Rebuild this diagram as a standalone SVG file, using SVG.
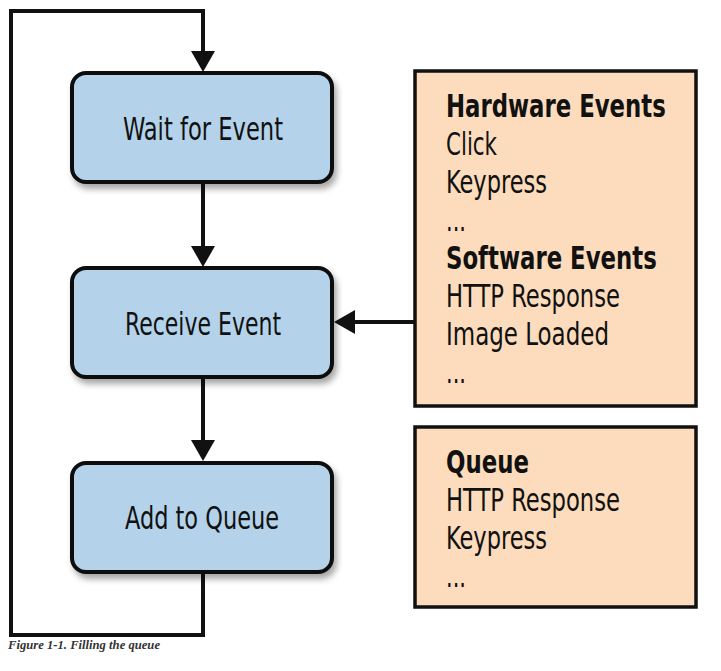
<svg xmlns="http://www.w3.org/2000/svg" width="721" height="671" viewBox="0 0 721 671">
<style>
  .blue { fill: #b4d3ea; stroke: #111; stroke-width: 4; }
  .peach { fill: #fcdcbc; stroke: #111; stroke-width: 3.5; }
  .t { font-family: "Liberation Sans Narrow", "DejaVu Sans Condensed", "Liberation Sans", sans-serif; font-size: 32px; fill: #111; }
  .b { font-weight: bold; }
  .conn { fill: none; stroke: #111; stroke-width: 4; }
  .cap { font-family: "Liberation Serif", serif; font-style: italic; font-weight: bold; font-size: 11.5px; fill: #333; }
</style>
<defs>
  <marker id="ah" markerUnits="userSpaceOnUse" markerWidth="22" markerHeight="26" viewBox="0 0 22 26" refX="10" refY="13" orient="auto">
    <path d="M0,1 L21,13 L0,25 z" fill="#111"/>
  </marker>
  <filter id="sh" x="-10%" y="-10%" width="130%" height="140%">
    <feDropShadow dx="3" dy="5" stdDeviation="3" flood-color="#000" flood-opacity="0.35"/>
  </filter>
</defs>
<rect width="721" height="671" fill="#fff"/>
<g id="connectors">
  <path class="conn" d="M203,574 V635 H11 V11 H203 V61" marker-end="url(#ah)"/>
  <path class="conn" d="M203,184 V256" marker-end="url(#ah)"/>
  <path class="conn" d="M203,379 V450" marker-end="url(#ah)"/>
  <path class="conn" d="M415,322 H345" marker-end="url(#ah)"/>
</g>
<g id="wait">
  <rect class="blue" x="72" y="73" width="260" height="109" rx="14" filter="url(#sh)"/>
  <text class="t" x="123" y="140" textLength="160" lengthAdjust="spacingAndGlyphs">Wait for Event</text>
</g>
<g id="receive">
  <rect class="blue" x="72" y="268" width="260" height="109" rx="14" filter="url(#sh)"/>
  <text class="t" x="125" y="335" textLength="156" lengthAdjust="spacingAndGlyphs">Receive Event</text>
</g>
<g id="add">
  <rect class="blue" x="72" y="463" width="260" height="109" rx="14" filter="url(#sh)"/>
  <text class="t" x="125" y="529" textLength="154" lengthAdjust="spacingAndGlyphs">Add to Queue</text>
</g>
<g id="events">
  <rect class="peach" x="415" y="71" width="281" height="335"/>
  <text class="t b" transform="matrix(0.82 0 0 1 446 117)" x="0" y="0" textLength="268" lengthAdjust="spacingAndGlyphs">Hardware Events</text>
  <text class="t" x="446" y="155" textLength="51" lengthAdjust="spacingAndGlyphs">Click</text>
  <text class="t" x="446" y="193" textLength="101" lengthAdjust="spacingAndGlyphs">Keypress</text>
  <text class="t" x="446" y="231" textLength="20" lengthAdjust="spacingAndGlyphs">...</text>
  <text class="t b" transform="matrix(0.82 0 0 1 446 269)" x="0" y="0" textLength="257" lengthAdjust="spacingAndGlyphs">Software Events</text>
  <text class="t" x="446" y="307" textLength="174" lengthAdjust="spacingAndGlyphs">HTTP Response</text>
  <text class="t" x="446" y="345" textLength="163" lengthAdjust="spacingAndGlyphs">Image Loaded</text>
  <text class="t" x="446" y="383" textLength="20" lengthAdjust="spacingAndGlyphs">...</text>
</g>
<g id="queue">
  <rect class="peach" x="415" y="427" width="281" height="180"/>
  <text class="t b" x="446" y="473" textLength="83" lengthAdjust="spacingAndGlyphs">Queue</text>
  <text class="t" x="446" y="511" textLength="174" lengthAdjust="spacingAndGlyphs">HTTP Response</text>
  <text class="t" x="446" y="549" textLength="101" lengthAdjust="spacingAndGlyphs">Keypress</text>
  <text class="t" x="446" y="587" textLength="20" lengthAdjust="spacingAndGlyphs">...</text>
</g>
<text class="cap" x="8" y="649" textLength="152" lengthAdjust="spacingAndGlyphs">Figure 1-1. Filling the queue</text>
</svg>
